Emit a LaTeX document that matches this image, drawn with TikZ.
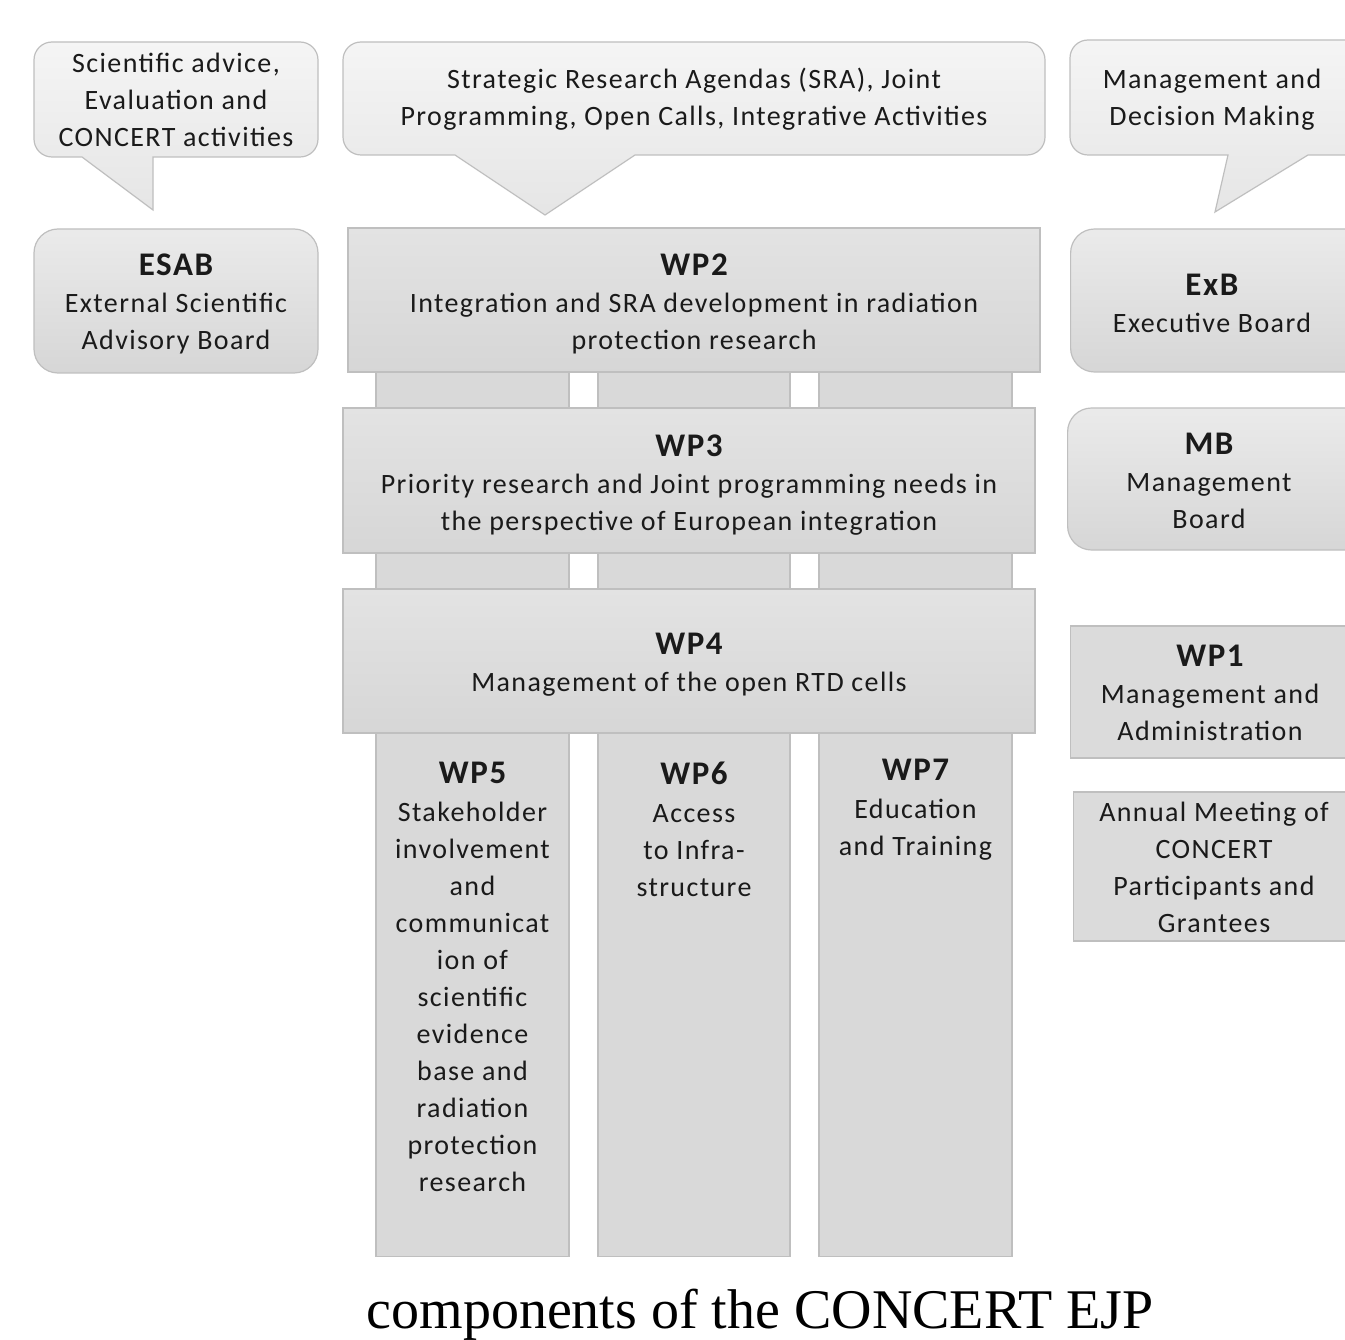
\documentclass[tikz,border=0pt]{standalone}
\usepackage{fontspec}
\setmainfont{Carlito}[LetterSpace=5]
\newfontfamily\capfont{Liberation Serif}
\definecolor{edgegray}{HTML}{BFBFBF}
\definecolor{pillarfill}{HTML}{D9D9D9}
\definecolor{txtcol}{HTML}{1A1A1A}
\newcommand\wptitle[1]{{\fontsize{33}{39}\selectfont\bfseries #1}}
\begin{document}
\begin{tikzpicture}[x=1pt,y=-1pt,
  txt/.style={font=\fontsize{28}{37}\selectfont, text=txtcol, align=center, inner sep=0pt},
  callout/.style={draw=edgegray, line width=1.2pt, top color=white!96!black, bottom color=white!90!black},
  roundbox/.style={draw=edgegray, line width=1.2pt, rounded corners=24pt, top color=white!92!black, bottom color=white!84!black, txt},
  wpbox/.style={draw=edgegray, line width=1.2pt, top color=white!89!black, bottom color=white!84!black, txt},
  pillar/.style={draw=edgegray, line width=1.2pt, fill=pillarfill, inner sep=0pt},
  flatbox/.style={draw=edgegray, line width=1.2pt, fill=white!86!black, txt},
]
\useasboundingbox (0,0) rectangle (1345,1340);
\clip (0,0) rectangle (1345,1340);
\fill[white] (0,0) rectangle (1345,1340);

% callouts
\path[callout] (153,210) -- (82,157) {[rounded corners=18pt] -- (34,157) -- (34,42) -- (318,42) -- (318,157)} -- (153,157) -- cycle;
\node[txt] (c1) at (176,100) {Scientific advice,\\Evaluation and\\CONCERT activities};

\path[callout] (545,215) -- (455,155) {[rounded corners=18pt] -- (343,155) -- (343,42) -- (1045,42) -- (1045,155)} -- (635,155) -- cycle;
\node[txt] (c2) at (694,99) {Strategic Research Agendas (SRA), Joint\\Programming, Open Calls, Integrative Activities};

\path[callout] (1215,212) -- (1228,155) {[rounded corners=18pt] -- (1070,155) -- (1070,40) -- (1380,40) -- (1380,155)} -- (1308,155) -- cycle;
\node[txt] (c3) at (1212,100) {Management and\\Decision Making};

% left and right boards
\node[roundbox, minimum width=284pt, minimum height=144pt] (esab) at (176,301) {};
\node[txt] (esabt) at (176,304) {\wptitle{ESAB}\\External Scientific\\Advisory Board};
\node[roundbox, minimum width=300pt, minimum height=143pt, anchor=west] (exb) at (1070,300.5) {};
\node[txt] (exbt) at (1212,303) {\wptitle{ExB}\\Executive Board};
\node[roundbox, minimum width=310pt, minimum height=142pt, anchor=west] (mb) at (1067,479) {};
\node[txt] (mbt) at (1209,481) {\wptitle{MB}\\Management\\Board};
\node[flatbox, minimum width=300pt, minimum height=132pt, anchor=west] (wp1) at (1070,692) {};
\node[txt] (wp1t) at (1210,693) {\wptitle{WP1}\\Management and\\Administration};
\node[flatbox, minimum width=300pt, minimum height=149pt, anchor=west] (am) at (1073,866.5) {};
\node[txt] (amt) at (1214,867) {Annual Meeting of\\CONCERT\\Participants and\\Grantees};

% pillars
\node[pillar, minimum width=193pt, minimum height=884pt, anchor=north] (p5) at (472.5,372) {};
\node[pillar, minimum width=192pt, minimum height=884pt, anchor=north] (p6) at (694,372) {};
\node[pillar, minimum width=193pt, minimum height=884pt, anchor=north] (p7) at (915.5,372) {};

% WP boxes
\node[wpbox, minimum width=692pt, minimum height=144pt] (wp2) at (694,300) {};
\node[txt] (wp2t) at (694,304) {\wptitle{WP2}\\Integration and SRA development in radiation\\protection research};
\node[wpbox, minimum width=692pt, minimum height=145pt] (wp3) at (689,480.5) {};
\node[txt] (wp3t) at (689,485) {\wptitle{WP3}\\Priority research and Joint programming needs in\\the perspective of European integration};
\node[wpbox, minimum width=692pt, minimum height=144pt] (wp4) at (689,661) {};
\node[txt] (wp4t) at (689,665) {\wptitle{WP4}\\Management of the open RTD cells};

% pillar texts
\node[txt, anchor=north] (wp5) at (472.5,762) {\wptitle{WP5}\\[1pt]Stakeholder\\involvement\\and\\communicat\\ion of\\scientific\\evidence\\base and\\radiation\\protection\\research};
\node[txt, anchor=north] (wp6) at (694,762) {\wptitle{WP6}\\[1pt]Access\\to Infra-\\structure};
\node[txt, anchor=north] (wp7) at (915.5,759) {\wptitle{WP7}\\[1pt]Education\\and Training};

% caption
\node[font=\capfont\fontsize{56}{60}\selectfont, anchor=base, inner sep=0pt] (cap) at (760,1328) {components of the CONCERT EJP};
\end{tikzpicture}
\end{document}
